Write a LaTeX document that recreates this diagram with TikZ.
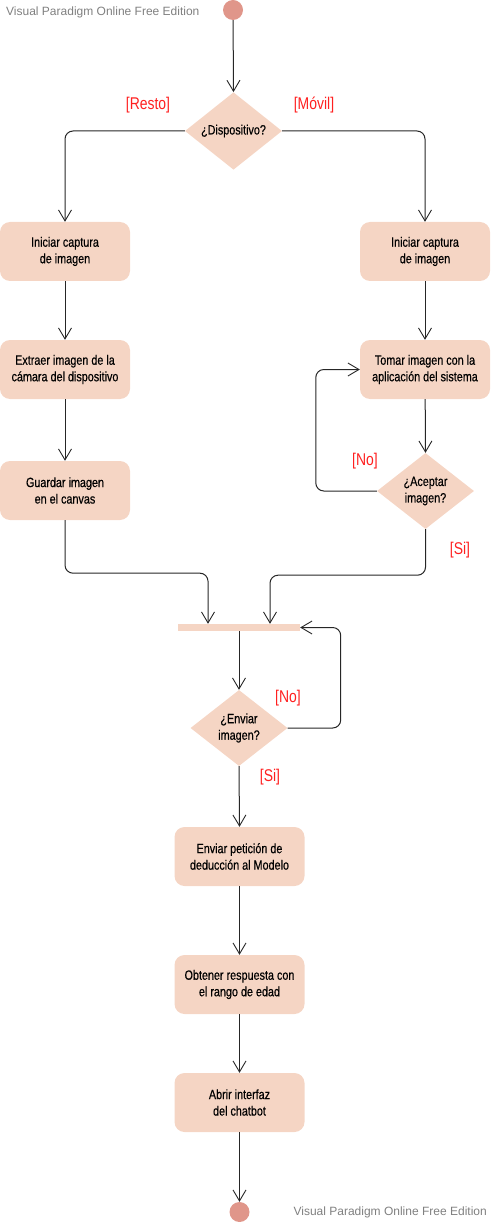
\documentclass[tikz,border=0pt]{standalone}
\usepackage{fontspec}
\setmainfont{Liberation Sans}
\newfontfamily\narrowfont{Liberation Sans}[FakeStretch=0.8,FakeBold=0.4]
\newfontfamily\guardfont{Liberation Sans}[FakeStretch=0.82]
\usetikzlibrary{shapes.geometric,arrows.meta}
\definecolor{boxfill}{HTML}{F5D5C4}
\definecolor{dotfill}{HTML}{E0968A}
\definecolor{guardred}{HTML}{FF2020}
\definecolor{wmgray}{HTML}{808080}
\tikzset{
  actbox/.style={draw=none, fill=boxfill, rounded corners=10pt, minimum width=130pt, minimum height=59pt, align=center, font=\narrowfont\fontsize{13.5}{16.5}\selectfont, inner sep=0pt},
  decbox/.style={diamond, draw=none, fill=boxfill, minimum width=97pt, minimum height=76pt, inner sep=0pt, align=center, font=\narrowfont\fontsize{13.5}{16.5}\selectfont},
  dot/.style={circle, fill=dotfill, minimum size=20pt, inner sep=0pt},
  barbox/.style={rectangle, fill=boxfill, minimum width=122pt, minimum height=7pt, inner sep=0pt},
  arr/.style={draw=black!85, line width=1pt, -{Straight Barb[length=11pt,width=13pt,line width=0.9pt]}},
  guard/.style={text=guardred, font=\guardfont\fontsize{17}{20}\selectfont, inner sep=0pt},
  wm/.style={text=wmgray, font=\fontsize{12}{14}\selectfont, inner sep=0pt}
}
\begin{document}
\begin{tikzpicture}[x=1pt,y=-1pt]
\useasboundingbox (0,0) rectangle (492,1222);
\node[wm, anchor=west] (wm1) at (6,12) {Visual Paradigm Online Free Edition};
\node[wm, anchor=east] (wm2) at (487,1212) {Visual Paradigm Online Free Edition};

\node[dot] (start) at (233,10) {};
\node[decbox] (dev) at (233.5,131) {¿Dispositivo?};
\node[guard] (gresto) at (148,105) {[Resto]};
\node[guard] (gmovil) at (314,105) {[Móvil]};

\node[actbox] (l1) at (65,251.5) {Iniciar captura\\de imagen};
\node[actbox] (l2) at (65,369.5) {Extraer imagen de la\\cámara del dispositivo};
\node[actbox] (l3) at (65,490.5) {Guardar imagen\\en el canvas};

\node[actbox] (r1) at (425,251.5) {Iniciar captura\\de imagen};
\node[actbox] (r2) at (425,369.5) {Tomar imagen con la\\aplicación del sistema};
\node[decbox] (acc) at (425.5,491) {¿Aceptar\\imagen?};
\node[guard] (gno1) at (365,461) {[No]};
\node[guard] (gsi1) at (460,550) {[Si]};

\node[barbox] (bar) at (239,627.5) {};
\node[decbox] (env) at (239,728) {¿Enviar\\imagen?};
\node[guard] (gno2) at (288,698) {[No]};
\node[guard] (gsi2) at (270,777) {[Si]};

\node[actbox] (e1) at (239.5,856.5) {Enviar petición de\\deducción al Modelo};
\node[actbox] (e2) at (239.5,984.5) {Obtener respuesta con\\el rango de edad};
\node[actbox] (e3) at (239.5,1102.5) {Abrir interfaz\\del chatbot};
\node[dot] (stop) at (239.5,1212) {};

\draw[arr] (start) -- (dev.north);
\draw[arr, rounded corners=8pt] (dev.west) -| (l1.north);
\draw[arr, rounded corners=8pt] (dev.east) -| (r1.north);
\draw[arr] (l1) -- (l2);
\draw[arr] (l2) -- (l3);
\draw[arr] (r1) -- (r2);
\draw[arr] (r2) -- (acc.north);
\draw[arr, rounded corners=8pt] (acc.west) -- ++(-61,0) |- (r2.west);
\draw[arr, rounded corners=8pt] (acc.south) -- ++(0,46) -| ([xshift=31pt]bar.north);
\draw[arr, rounded corners=8pt] (l3.south) -- ++(0,53) -| ([xshift=-31pt]bar.north);
\draw[arr] (bar.south) -- (env.north);
\draw[arr, rounded corners=8pt] (env.east) -- ++(53,0) |- (bar.east);
\draw[arr] (env.south) -- (e1.north);
\draw[arr] (e1) -- (e2);
\draw[arr] (e2) -- (e3);
\draw[arr] (e3) -- (stop.north);
\end{tikzpicture}
\end{document}
